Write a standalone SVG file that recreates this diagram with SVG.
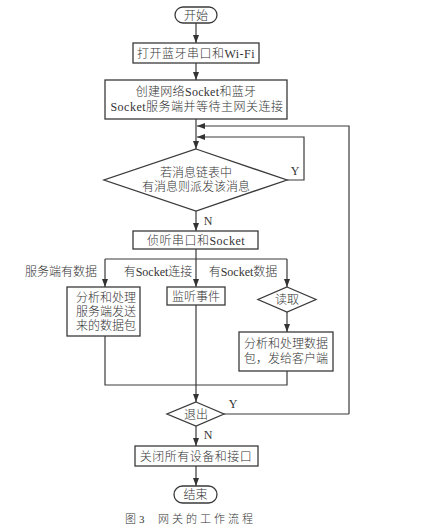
<svg xmlns="http://www.w3.org/2000/svg" width="426" height="527" viewBox="0 0 426 527">
<style>
.s{fill:#fff;stroke:#3a3a3a;stroke-width:1.3}
.c{fill:none;stroke:#3a3a3a;stroke-width:1.2}
text{font-family:"Liberation Serif","Noto Sans CJK SC",serif;font-size:12px;font-weight:300;fill:#333;text-anchor:middle}
.l{text-anchor:start}
.cap{font-size:11px;letter-spacing:3px}
</style>
<defs>
<marker id="a" viewBox="0 0 8 6" refX="8" refY="3" markerWidth="8" markerHeight="6" markerUnits="userSpaceOnUse" orient="auto">
<path d="M0,0 L8,3 L0,6 Z" fill="#333"/>
</marker>
</defs>
<rect width="426" height="527" fill="#fff"/>
<g id="connectors">
<path class="c" d="M196,23 V43" marker-end="url(#a)"/>
<path class="c" d="M196,63 V80" marker-end="url(#a)"/>
<path class="c" d="M196,119 V149" marker-end="url(#a)"/>
<path class="c" d="M349,414 V126 H197" marker-end="url(#a)"/>
<path class="c" d="M287,180 H304 V137 H197" marker-end="url(#a)"/>
<path class="c" d="M196,211 V231" marker-end="url(#a)"/>
<path class="c" d="M196,249 V287" marker-end="url(#a)"/>
<path class="c" d="M105,259 H287"/>
<path class="c" d="M105,259 V287" marker-end="url(#a)"/>
<path class="c" d="M287,259 V287" marker-end="url(#a)"/>
<path class="c" d="M287,312 V332" marker-end="url(#a)"/>
<path class="c" d="M105,336 V385 H287 V371"/>
<path class="c" d="M196,305 V402" marker-end="url(#a)"/>
<path class="c" d="M224,414 H349"/>
<path class="c" d="M196,426 V446" marker-end="url(#a)"/>
<path class="c" d="M196,466 V486" marker-end="url(#a)"/>
<text x="295" y="175">Y</text>
<text x="208" y="225">N</text>
<text x="233" y="408">Y</text>
<text x="208" y="439">N</text>
<text x="61" y="276">服务端有数据</text>
<text x="158" y="276">有Socket连接</text>
<text x="243" y="276">有Socket数据</text>
</g>
<g id="start">
<rect class="s" x="175" y="7" width="42" height="16" rx="8"/>
<text x="196" y="19.5">开始</text>
</g>
<g id="open">
<rect class="s" x="133" y="43" width="126" height="20"/>
<text x="196" y="57.5" letter-spacing="0.5">打开蓝牙串口和Wi-Fi</text>
</g>
<g id="create">
<rect class="s" x="105" y="80" width="182" height="39"/>
<text x="196" y="96" letter-spacing="0.3">创建网络Socket和蓝牙</text>
<text x="197" y="111" letter-spacing="0.5">Socket服务端并等待主网关连接</text>
</g>
<g id="dispatch">
<polygon class="s" points="196,149 287,180 196,211 104,180"/>
<text x="196" y="177">若消息链表中</text>
<text x="196" y="191">有消息则派发该消息</text>
</g>
<g id="listen">
<rect class="s" x="133" y="231" width="125" height="18"/>
<text x="196" y="244.5" letter-spacing="0.5">侦听串口和Socket</text>
</g>
<g id="server">
<rect class="s" x="67" y="287" width="73" height="49"/>
<text x="106" y="302">分析和处理</text>
<text x="106" y="316">服务端发送</text>
<text x="106" y="330">来的数据包</text>
</g>
<g id="event">
<rect class="s" x="167" y="287" width="58" height="18"/>
<text x="196" y="300.5">监听事件</text>
</g>
<g id="read">
<polygon class="s" points="287,287 316,299.5 287,312 258,299.5"/>
<text x="287" y="304">读取</text>
</g>
<g id="client">
<rect class="s" x="239" y="332" width="94" height="39"/>
<text x="286" y="348">分析和处理数据</text>
<text x="286" y="363">包，发给客户端</text>
</g>
<g id="exit">
<polygon class="s" points="196,402 224,414 196,426 167,414"/>
<text x="196" y="418.5">退出</text>
</g>
<g id="close">
<rect class="s" x="135" y="446" width="123" height="20"/>
<text x="196" y="460.5" letter-spacing="0.5">关闭所有设备和接口</text>
</g>
<g id="end">
<rect class="s" x="174" y="486" width="43" height="17" rx="8.5"/>
<text x="195.5" y="499">结束</text>
</g>
<text class="cap l" x="125" y="523">图3</text>
<text class="cap l" x="158" y="523">网关的工作流程</text>
</svg>
